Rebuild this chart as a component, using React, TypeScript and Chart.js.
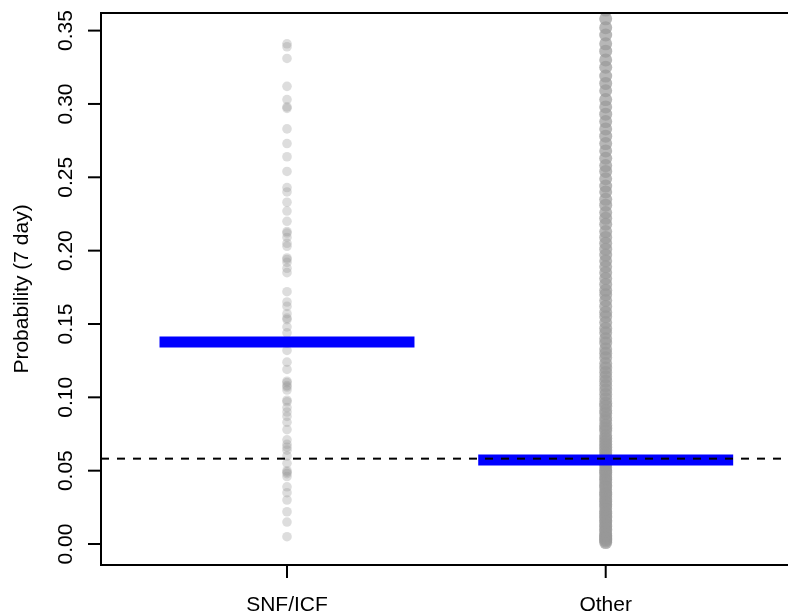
import { useEffect, useRef } from "react";
import { Chart, registerables } from "chart.js";

Chart.register(...registerables);

const categories = ["SNF/ICF", "Other"];
const yTicks = [0, 0.05, 0.1, 0.15, 0.2, 0.25, 0.3, 0.35];
const yTickLabels = ["0.00", "0.05", "0.10", "0.15", "0.20", "0.25", "0.30", "0.35"];
const yTitle = "Probability (7 day)";

const snfValues = [
  0.341, 0.339, 0.331, 0.312, 0.303, 0.298, 0.297, 0.283, 0.273, 0.264,
  0.254, 0.243, 0.240, 0.233, 0.227, 0.220, 0.213, 0.212, 0.209, 0.205,
  0.203, 0.195, 0.194, 0.192, 0.188, 0.185, 0.172, 0.165, 0.162, 0.157,
  0.154, 0.153, 0.148, 0.144, 0.137, 0.132, 0.124, 0.119, 0.110, 0.111,
  0.108, 0.107, 0.105, 0.097, 0.098, 0.093, 0.090, 0.087, 0.083, 0.078,
  0.071, 0.068, 0.066, 0.064, 0.060, 0.055, 0.050, 0.049, 0.048, 0.046,
  0.039, 0.035, 0.030, 0.022, 0.015, 0.005,
];

const otherValues = [
  0.001, 0.002, 0.003, 0.004, 0.005, 0.006, 0.007, 0.009, 0.010, 0.012,
  0.013, 0.015, 0.016, 0.018, 0.019, 0.021, 0.022, 0.024, 0.026, 0.027,
  0.029, 0.030, 0.032, 0.034, 0.035, 0.037, 0.039, 0.040, 0.042, 0.044,
  0.045, 0.047, 0.049, 0.050, 0.052, 0.054, 0.055, 0.057, 0.058, 0.060,
  0.062, 0.064, 0.066, 0.068, 0.070, 0.072, 0.074, 0.077, 0.079, 0.081,
  0.084, 0.086, 0.089, 0.091, 0.094, 0.096, 0.099, 0.102, 0.105, 0.108,
  0.111, 0.114, 0.117, 0.120, 0.123, 0.127, 0.130, 0.133, 0.137, 0.140,
  0.144, 0.147, 0.151, 0.155, 0.158, 0.162, 0.166, 0.170, 0.173, 0.177,
  0.181, 0.185, 0.189, 0.193, 0.197, 0.201, 0.205, 0.209, 0.213, 0.218,
  0.222, 0.226, 0.231, 0.235, 0.240, 0.244, 0.249, 0.254, 0.258, 0.263,
  0.268, 0.273, 0.278, 0.283, 0.288, 0.293, 0.298, 0.303, 0.309, 0.314,
  0.319, 0.325, 0.330, 0.336, 0.341, 0.347, 0.352, 0.358, 0.364, 0.370,
];

const groupMeans = [0.1377, 0.0573];
const overallMean = 0.0582;

const X_MIN = 0.4164;
const X_MAX = 2.572;
const Y_MIN = -0.0143;
const Y_MAX = 0.362;
const FONT = '21px "Liberation Sans", Arial, Helvetica, sans-serif';

const axesPlugin = {
  id: "rAxes",
  afterDatasetsDraw(chart: any) {
    const { ctx, chartArea, scales } = chart;
    const { left, top, right, bottom } = chartArea;
    const xs = scales.x;
    const ys = scales.y;
    ctx.save();
    ctx.strokeStyle = "#000";
    ctx.lineWidth = 2;
    ctx.lineCap = "butt";
    ctx.beginPath();
    ctx.moveTo(left, top);
    ctx.lineTo(right + 2, top);
    ctx.moveTo(left, top - 1);
    ctx.lineTo(left, bottom + 1);
    ctx.moveTo(left, bottom);
    ctx.lineTo(right + 2, bottom);
    ctx.stroke();

    ctx.fillStyle = "#000";
    ctx.font = FONT;
    yTicks.forEach((v, i) => {
      const py = ys.getPixelForValue(v);
      ctx.beginPath();
      ctx.moveTo(left - 13, py);
      ctx.lineTo(left, py);
      ctx.stroke();
      ctx.save();
      ctx.translate(72, py);
      ctx.rotate(-Math.PI / 2);
      ctx.textAlign = "center";
      ctx.textBaseline = "alphabetic";
      ctx.fillText(yTickLabels[i], 0, 0);
      ctx.restore();
    });
    categories.forEach((c, i) => {
      const px = xs.getPixelForValue(i + 1);
      ctx.beginPath();
      ctx.moveTo(px, bottom);
      ctx.lineTo(px, bottom + 13);
      ctx.stroke();
      ctx.textAlign = "center";
      ctx.textBaseline = "alphabetic";
      ctx.fillText(c, px, 611);
    });
    ctx.save();
    ctx.translate(28, (top + bottom) / 2);
    ctx.rotate(-Math.PI / 2);
    ctx.textAlign = "center";
    ctx.textBaseline = "alphabetic";
    ctx.fillText(yTitle, 0, 0);
    ctx.restore();
    ctx.restore();
  },
};

export default function App() {
  const ref = useRef<HTMLCanvasElement | null>(null);

  useEffect(() => {
    if (!ref.current) return;
    const chart = new Chart(ref.current, {
      type: "scatter",
      data: {
        datasets: [
          {
            type: "line",
            data: [
              { x: X_MIN, y: overallMean },
              { x: X_MAX, y: overallMean },
            ],
            borderColor: "#000",
            borderWidth: 2,
            borderDash: [8, 8],
            pointRadius: 0,
            order: 0,
            clip: 0,
          } as any,
          ...groupMeans.map((m, i) => ({
            type: "line",
            data: [
              { x: i + 1 - 0.4, y: m },
              { x: i + 1 + 0.4, y: m },
            ],
            borderColor: "#0000ff",
            borderWidth: 11,
            borderCapStyle: "butt",
            pointRadius: 0,
            order: 1,
            clip: 0,
          })) as any,
          {
            data: snfValues.map((v) => ({ x: 1, y: v })),
            backgroundColor: "rgba(150,150,150,0.32)",
            borderWidth: 0,
            pointRadius: 4.8,
            order: 2,
            clip: 0,
          },
          {
            data: otherValues.map((v) => ({ x: 2, y: v })),
            backgroundColor: "rgba(152,152,152,0.7)",
            borderWidth: 0,
            pointRadius: 6.5,
            order: 3,
            clip: 0,
          },
        ],
      },
      options: {
        animation: false,
        responsive: false,
        layout: { autoPadding: false, padding: { left: 101, top: 13, right: 0, bottom: 50 } },
        plugins: { legend: { display: false }, tooltip: { enabled: false } },
        scales: {
          x: { type: "linear", min: X_MIN, max: X_MAX, display: false },
          y: { type: "linear", min: Y_MIN, max: Y_MAX, display: false },
        },
      },
      plugins: [axesPlugin],
    });
    return () => chart.destroy();
  }, []);

  return (
    <div style={{ position: "fixed", left: 0, top: 0, width: 788, height: 615, background: "#fff" }}>
      <canvas ref={ref} width={788} height={615} />
    </div>
  );
}
